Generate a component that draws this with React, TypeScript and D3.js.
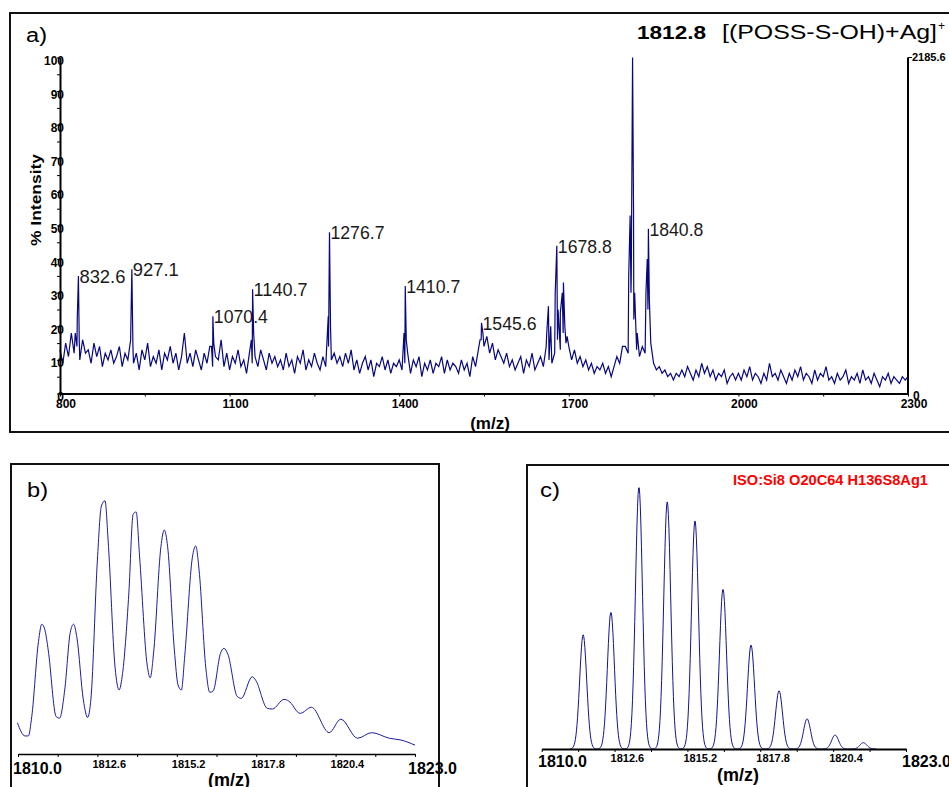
import React, { useEffect, useRef } from "react";
import * as d3 from "d3";

const FONT = "'Liberation Sans', Arial, Helvetica, sans-serif";
const NAVY = "#07077f";

// a) survey spectrum: baseline read every 5 m/z from 800 to 2300
const surveyStart = 800;
const surveyStep = 5;
const surveyBaseline = [
  13, 9, 15, 11, 18, 12, 14, 10, 16, 12, 13, 9, 15, 11, 14, 8, 12, 10, 13, 9,
  11, 14, 8, 12, 10, 16, 9, 12, 7, 13, 10, 15, 8, 11, 9, 13, 7, 12, 10, 14,
  9, 12, 7, 11, 18, 9, 12, 8, 13, 10, 7, 12, 9, 14, 8, 11, 10, 16, 8, 12,
  7, 11, 9, 13, 8, 10, 6, 12, 9, 11, 8, 13, 10, 7, 12, 9, 11, 8, 10, 7,
  12, 8, 10, 6, 11, 9, 13, 7, 10, 8, 12, 9, 7, 11, 8, 14, 10, 12, 9, 11,
  8, 12, 9, 13, 7, 10, 6, 9, 11, 7, 10, 5, 9, 8, 11, 7, 10, 6, 9, 8,
  10, 7, 9, 12, 6, 10, 8, 11, 5, 9, 7, 10, 6, 9, 8, 11, 6, 10, 7, 9,
  8, 6, 10, 7, 9, 5, 11, 8, 13, 16, 14, 17, 12, 15, 10, 13, 11, 9, 12, 8,
  10, 7, 9, 11, 6, 10, 8, 12, 7, 9, 11, 8, 14, 10, 9, 12, 16, 13, 18, 15,
  14, 10, 13, 9, 11, 8, 10, 7, 9, 6, 8, 7, 9, 6, 8, 5, 8, 11, 9, 14,
  14, 12, 30, 22, 13, 11, 14, 12, 25, 15, 9, 7, 8, 6, 7, 5, 6, 4, 6, 5,
  7, 5, 8, 6, 4, 7, 5, 9, 6, 8, 5, 7, 4, 6, 5, 7, 3, 5, 6, 4,
  6, 4, 7, 5, 8, 4, 6, 5, 3, 6, 4, 9, 5, 6, 4, 7, 5, 3, 6, 4,
  7, 5, 8, 4, 6, 5, 3, 7, 4, 6, 5, 8, 4, 5, 3, 6, 4, 5, 7, 3,
  5, 4, 6, 3, 7, 4, 5, 3, 6, 4, 2, 5, 4, 6, 3, 5, 4, 3, 5, 4,
  5,
];
// sharp peaks sitting on the baseline
const peakMz = [827, 830.5, 832.6, 834, 925, 927.1, 929, 1068, 1070.4, 1072, 1138.5, 1140.7, 1142.5, 1144,
  1274.5, 1276.7, 1278.5, 1408.5, 1410.7, 1412.5, 1543, 1545.6, 1548, 1661, 1664, 1668, 1676, 1678.8, 1681,
  1685, 1688.5, 1690.5, 1693, 1697, 1806, 1808.5, 1810.5, 1812.8, 1814.5, 1816.5, 1821, 1836.5, 1838.8, 1840.8, 1842.5];
const peakInt = [18, 22, 35, 16, 17, 37, 14, 14, 23, 15, 16, 31, 18, 14,
  23, 48, 20, 18, 32, 16, 16, 21, 18, 18, 26, 20, 30, 44, 25,
  24, 30, 33, 20, 17, 35, 53, 35, 100, 55, 30, 18, 30, 40, 49, 28];
const labelMz = [832.6, 927.1, 1070.4, 1140.7, 1276.7, 1410.7, 1545.6, 1678.8, 1840.8];
const labelInt = [35, 37, 23, 31, 48, 32, 21, 44, 49];
const labelText = ["832.6", "927.1", "1070.4", "1140.7", "1276.7", "1410.7", "1545.6", "1678.8", "1840.8"];
const surveyXTicks = [800, 1100, 1400, 1700, 2000, 2300];
const surveyYTicks = [0, 10, 20, 30, 40, 50, 60, 70, 80, 90, 100];

// b) experimental isotope cluster
const expMz = [1809.98, 1810.23, 1810.34, 1810.45, 1810.67, 1810.78, 1810.89, 1810.99, 1811.25, 1811.36, 1811.53,
  1811.71, 1811.82, 1811.93, 1812.14, 1812.28, 1812.39, 1812.6, 1812.73, 1812.85, 1812.95, 1813.18, 1813.31,
  1813.41, 1813.63, 1813.77, 1813.87, 1813.98, 1814.23, 1814.33, 1814.44, 1814.68, 1814.79, 1814.9, 1815.12,
  1815.24, 1815.35, 1815.46, 1815.71, 1815.82, 1815.93, 1816.15, 1816.28, 1816.39, 1816.63, 1816.74, 1816.87,
  1817.18, 1817.31, 1817.67, 1817.78, 1818.16, 1818.33, 1818.71, 1818.86, 1819.24, 1819.61, 1820.19, 1820.57,
  1821.12, 1821.58, 1822.16, 1822.54, 1823.0];
const expInt = [12.3, 7.1, 7.1, 14.7, 44.2, 51.1, 48.4, 40.9, 14.7, 14.1, 25.2,
  47.8, 51.1, 45.7, 21.3, 14.4, 22.0, 76.4, 97.6, 99.7, 84.3, 33.9, 25.2,
  30.4, 63.4, 94.4, 95.3, 78, 35, 30, 39.8, 81.6, 88.2, 81.6, 40.9,
  27.2, 25.2, 38.6, 77.4, 81.9, 72.4, 33.9, 24.3, 24.8, 39.6, 41.6, 39.4,
  22.6, 21.9, 30.4, 29.1, 18, 17.7, 21.5, 20.9, 16, 18.4, 8.4, 13.7,
  6.2, 8.4, 6.2, 5.5, 3.5];

// c) calculated isotope pattern (centroids)
const isoMz = [1811.48, 1812.47, 1813.47, 1814.48, 1815.47, 1816.47, 1817.47, 1818.47, 1819.47, 1820.47, 1821.48];
const isoInt = [43.6, 52.2, 100, 94.3, 87.2, 61.0, 39.7, 22.2, 11.5, 5.3, 2.4];
const isoWidth = 0.125;
const zoomLabels = [1812.6, 1815.2, 1817.8, 1820.4];

function txt(g, x, y, s, size, weight = "normal", anchor = "start", len = 0) {
  const t = g.append("text")
    .attr("x", x).attr("y", y)
    .attr("font-family", FONT)
    .attr("font-size", size)
    .attr("font-weight", weight)
    .attr("text-anchor", anchor)
    .text(s);
  if (len) t.attr("textLength", len).attr("lengthAdjust", "spacingAndGlyphs");
  return t;
}

const App = () => {
  const svgRef = useRef(null);

  useEffect(() => {
    const svg = d3.select(svgRef.current);
    svg.selectAll("*").remove();

    // ---------- panel a ----------
    const a = svg.append("g");
    a.append("rect").attr("x", 10).attr("y", 13).attr("width", 980).attr("height", 419)
      .attr("fill", "none").attr("stroke", "#111").attr("stroke-width", 2);

    const x = d3.scaleLinear().domain([800, 2300]).range([60, 908]);
    const y = d3.scaleLinear().domain([0, 100]).range([393.5, 57.5]);

    const pts = surveyBaseline.map((v, i) => [surveyStart + i * surveyStep, v]);
    peakMz.forEach((m, i) => pts.push([m, peakInt[i]]));
    pts.sort((p, q) => p[0] - q[0]);

    // labels go under the trace
    labelText.forEach((s, i) => {
      txt(a, x(labelMz[i]) + 1, y(labelInt[i]) + 7, s, 19, "normal", "start", s.length === 5 ? 46 : 54)
        .attr("fill", "#1a1a1a");
    });

    a.append("path")
      .datum(pts)
      .attr("fill", "none")
      .attr("stroke", NAVY)
      .attr("stroke-width", 1.2)
      .attr("d", d3.line().x(d => x(d[0])).y(d => y(d[1])));

    a.append("g").attr("transform", "translate(0,393.5)")
      .call(d3.axisBottom(x).tickValues(d3.range(800, 2301, 150)).tickSize(3).tickSizeOuter(0).tickFormat(() => ""))
      .call(g => g.select(".domain").attr("stroke-width", 2));
    a.append("g").attr("transform", "translate(60,0)")
      .call(d3.axisLeft(y).tickValues(d3.range(0, 101, 5)).tickSize(3).tickSizeOuter(0).tickFormat(() => ""))
      .call(g => g.select(".domain").attr("stroke-width", 2));
    a.selectAll(".tick text").remove();

    surveyXTicks.forEach(v => txt(a, x(v) + 6, 408, String(v), 12, "bold", "middle"));
    surveyYTicks.forEach(v => txt(a, 64, y(v) + 7.5, String(v), 12, "bold", "end"));

    // right axis
    a.append("line").attr("x1", 908).attr("x2", 908).attr("y1", y(100)).attr("y2", y(0))
      .attr("stroke", "#000").attr("stroke-width", 2);
    a.append("line").attr("x1", 908).attr("x2", 912).attr("y1", y(100)).attr("y2", y(100))
      .attr("stroke", "#000").attr("stroke-width", 1);
    txt(a, 912, y(100) + 3.5, "2185.6", 11, "bold");
    txt(a, 913, 400, "0", 12, "bold");

    txt(a, 490, 429, "(m/z)", 17, "bold", "middle");
    txt(a, 0, 0, "% Intensity", 14, "bold", "middle", 92).attr("transform", "translate(41,200) rotate(-90)");
    txt(a, 26, 42, "a)", 20, "normal", "start", 21);
    txt(a, 637, 39, "1812.8", 19, "bold", "start", 69);
    txt(a, 722, 39, "[(POSS-S-OH)+Ag]", 20, "normal", "start", 215);
    txt(a, 938, 30, "+", 12, "normal");

    // ---------- panel b ----------
    const b = svg.append("g");
    b.append("rect").attr("x", 11).attr("y", 464).attr("width", 428).attr("height", 400)
      .attr("fill", "none").attr("stroke", "#111").attr("stroke-width", 2);
    const xb = d3.scaleLinear().domain([1810, 1823]).range([18, 415]);
    const yb = d3.scaleLinear().domain([0, 100]).range([754, 500]);
    b.append("path")
      .datum(expMz.map((m, i) => [m, expInt[i]]))
      .attr("fill", "none").attr("stroke", "#1c1ca0").attr("stroke-width", 1)
      .attr("d", d3.line().x(d => xb(d[0])).y(d => yb(d[1])).curve(d3.curveMonotoneX));
    b.append("g").attr("transform", "translate(0,754)")
      .call(d3.axisBottom(xb).tickValues(d3.range(0, 11).map(i => 1810 + 1.3 * i)).tickSize(3).tickSizeOuter(0).tickFormat(() => ""))
      .call(g => g.select(".domain").attr("stroke-width", 1.3));
    zoomLabels.forEach(v => txt(b, xb(v) - 5, 768, v.toFixed(1), 11, "bold"));
    txt(b, 13, 774, "1810.0", 16, "bold");
    txt(b, 408, 774, "1823.0", 16, "bold");
    txt(b, 229, 786, "(m/z)", 18, "bold", "middle");
    txt(b, 27, 497, "b)", 20, "normal", "start", 21);

    // ---------- panel c ----------
    const c = svg.append("g");
    c.append("rect").attr("x", 527).attr("y", 465).attr("width", 500).attr("height", 400)
      .attr("fill", "none").attr("stroke", "#111").attr("stroke-width", 2);
    const xc = d3.scaleLinear().domain([1810, 1823]).range([541.7, 906]);
    const yc = d3.scaleLinear().domain([0, 100]).range([749, 487]);
    const grid = d3.range(1811.0, 1821.95, 0.02);
    const profile = grid.map(m => [m, d3.sum(isoMz, (p, i) => isoInt[i] * Math.exp(-0.5 * ((m - p) / isoWidth) ** 2))]);
    c.append("path")
      .datum(profile)
      .attr("fill", "none").attr("stroke", "#14148f").attr("stroke-width", 1)
      .attr("d", d3.line().x(d => xc(d[0])).y(d => yc(d[1])));
    c.append("g").attr("transform", "translate(0,749)")
      .call(d3.axisBottom(xc).tickValues(d3.range(0, 11).map(i => 1810 + 1.3 * i)).tickSize(3).tickSizeOuter(0).tickFormat(() => ""))
      .call(g => g.select(".domain").attr("stroke-width", 2));
    zoomLabels.forEach(v => txt(c, xc(v) - 4, 762, v.toFixed(1), 11, "bold"));
    txt(c, 538, 767, "1810.0", 16, "bold");
    txt(c, 902, 767, "1823.0", 16, "bold");
    txt(c, 738, 781, "(m/z)", 18, "bold", "middle");
    txt(c, 540, 497, "c)", 20, "normal", "start", 20);
    txt(c, 733, 485, "ISO:Si8 O20C64 H136S8Ag1", 15, "bold", "start", 195).attr("fill", "#ff0000");
  }, []);

  return (
    <svg
      ref={svgRef}
      width={949}
      height={787}
      style={{ position: "absolute", left: 0, top: 0, background: "#fff" }}
      aria-label="MALDI spectrum of POSS-S-OH with Ag"
    />
  );
};

export default App;
